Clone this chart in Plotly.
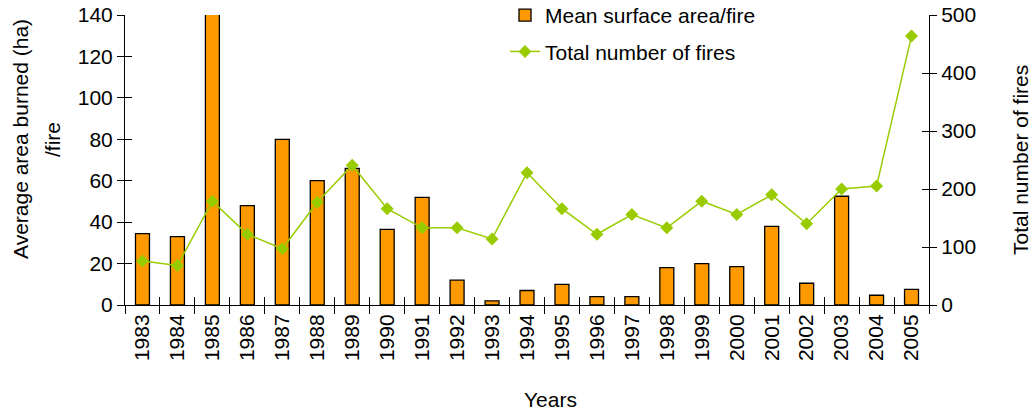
import plotly.graph_objects as go

# Fire statistics, 1983-2005
years = [str(y) for y in range(1983, 2006)]
mean_area = [34.5, 33, 141, 48, 80, 60, 66, 36.5, 52, 12, 2, 7, 10,
             4, 4, 18, 20, 18.5, 38, 10.5, 52.5, 4.7, 7.5]
total_fires = [76, 68, 179, 122, 97, 177, 241, 166, 133, 133, 114, 228, 166,
               122, 156, 133, 179, 156, 190, 140, 200, 205, 464]

FONT = "Liberation Sans, Arial, sans-serif"
FS = 21
ORANGE = "#FF9900"
GREEN = "#99CC00"

W, H = 1031, 415
L, R, T, B = 125, 102, 15, 110
PW, PH = W - L - R, H - T - B


def px_x(x):
    return (x - L) / PW


def px_y(y):
    return (H - B - y) / PH


fig = go.Figure()
fig.add_trace(go.Bar(
    x=years, y=mean_area, name="Mean surface area/fire",
    marker=dict(color=ORANGE, line=dict(color="black", width=1.3)),
    legendgroup="a", yaxis="y", cliponaxis=False,
))
fig.add_trace(go.Scatter(
    x=years, y=total_fires, name="Total number of fires",
    mode="lines+markers",
    line=dict(color=GREEN, width=1.5),
    marker=dict(symbol="diamond", size=10, color=GREEN),
    legendgroup="b", yaxis="y2", cliponaxis=False,
))
# empty traces so the overlay axes (inner tick halves) get rendered
for xa, ya in (("x2", "y"), ("x", "y3"), ("x", "y4")):
    fig.add_trace(go.Scatter(x=[], y=[], xaxis=xa, yaxis=ya,
                             showlegend=False, hoverinfo="skip"))

axis_common = dict(showline=True, linecolor="black", linewidth=1,
                   tickcolor="black", tickwidth=1, showgrid=False,
                   zeroline=False, tickfont=dict(size=FS, color="black"))
inner_ticks = dict(ticks="inside", showticklabels=False, showline=False,
                   tickcolor="black", tickwidth=1, showgrid=False,
                   zeroline=False)

fig.update_layout(
    width=W, height=H,
    margin=dict(l=L, r=R, t=T, b=B, autoexpand=False),
    paper_bgcolor="white", plot_bgcolor="white",
    font=dict(family=FONT, size=FS, color="black"),
    bargap=0.6,
    showlegend=True,
    legend=dict(x=px_x(505), y=px_y(-5), xanchor="left", yanchor="top",
                bgcolor="rgba(0,0,0,0)", traceorder="grouped",
                tracegroupgap=6, font=dict(size=FS)),
    xaxis=dict(type="category", range=[-0.5, 22.5], ticks="outside",
               tickson="boundaries", ticklen=8, tickangle=-90, **axis_common),
    xaxis2=dict(overlaying="x", anchor="y", range=[-0.5, 22.5],
                tickvals=[i - 0.5 for i in range(24)], ticklen=8,
                **inner_ticks),
    yaxis=dict(range=[0, 140], dtick=20, ticks="outside", ticklen=7,
               **axis_common),
    yaxis2=dict(range=[0, 500], dtick=100, overlaying="y", side="right",
                ticks="outside", ticklen=7, **axis_common),
    yaxis3=dict(range=[0, 140], dtick=20, overlaying="y", side="left",
                anchor="x", ticklen=7, **inner_ticks),
    yaxis4=dict(range=[0, 500], dtick=100, overlaying="y", side="right",
                anchor="x", ticklen=7, **inner_ticks),
    annotations=[
        dict(text="Average area burned (ha)", x=px_x(20), y=px_y(139)),
        dict(text="/fire", x=px_x(52), y=px_y(140)),
        dict(text="Total number of fires", x=px_x(1020), y=px_y(160)),
        dict(text="Years", x=px_x(550), y=px_y(400), textangle=0),
    ],
)
for a in fig.layout.annotations:
    a.update(xref="paper", yref="paper", xanchor="center", yanchor="middle",
             showarrow=False, font=dict(size=FS))
    if a.textangle is None:
        a.textangle = -90

fig.write_html("out.html")
